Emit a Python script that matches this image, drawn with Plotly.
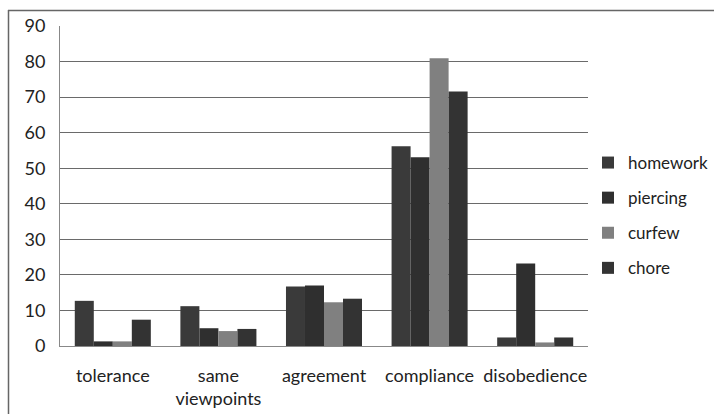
import plotly.graph_objects as go

categories = ["tolerance", "same<br>viewpoints", "agreement", "compliance", "disobedience"]
homework = [12.7, 11.2, 16.7, 56.2, 2.4]
piercing = [1.3, 5.0, 17.0, 53.1, 23.2]
curfew = [1.3, 4.2, 12.3, 80.9, 1.0]
chore = [7.4, 4.8, 13.3, 71.6, 2.4]
y_ticks = [0, 10, 20, 30, 40, 50, 60, 70, 80, 90]

series = [
    ("homework", homework, "#3a3a3a"),
    ("piercing", piercing, "#2f2f2f"),
    ("curfew", curfew, "#808080"),
    ("chore", chore, "#333333"),
]

FONT = "Lato, Open Sans, sans-serif"

fig = go.Figure()
for name, vals, color in series:
    fig.add_trace(go.Bar(
        x=categories, y=vals, name=name, legendgroup=name,
        marker=dict(color=color, line=dict(width=0)),
    ))

W, H = 714, 414
L, R, T, B = 60, 126, 26, 68
pw, ph = W - L - R, H - T - B

def px_x(px):
    return (px - L) / pw

def px_y(py):
    return (H - B - py) / ph

fig.update_layout(
    width=W, height=H,
    margin=dict(l=L, r=R, t=T, b=B, autoexpand=False),
    paper_bgcolor="white", plot_bgcolor="white",
    barmode="group", bargap=0.28, bargroupgap=0,
    font=dict(family=FONT, size=18, color="#222222"),
    xaxis=dict(
        showgrid=False, showline=True, linecolor="#888888", linewidth=1,
        ticks="", tickfont=dict(size=18), ticklabelstandoff=13,
    ),
    yaxis=dict(
        range=[0, 90], tickvals=y_ticks, showgrid=True, gridcolor="#6a6a6a",
        gridwidth=1, showline=True, linecolor="#888888", linewidth=1,
        zeroline=False, ticks="", tickfont=dict(size=18), ticklabelstandoff=10,
    ),
    legend=dict(
        xref="container", yref="container",
        x=588 / W, xanchor="left", y=1 - 145 / H, yanchor="top",
        font=dict(size=17), tracegroupgap=10, itemwidth=30,
        bgcolor="rgba(0,0,0,0)",
    ),
    showlegend=True,
    shapes=[
        dict(type="line", xref="paper", yref="paper",
             x0=px_x(8), x1=px_x(714), y0=px_y(10.5), y1=px_y(10.5),
             line=dict(color="#666666", width=1.5)),
        dict(type="line", xref="paper", yref="paper",
             x0=px_x(8.5), x1=px_x(8.5), y0=px_y(10), y1=px_y(414),
             line=dict(color="#666666", width=1.5)),
    ],
)

fig.write_html("out.html")
